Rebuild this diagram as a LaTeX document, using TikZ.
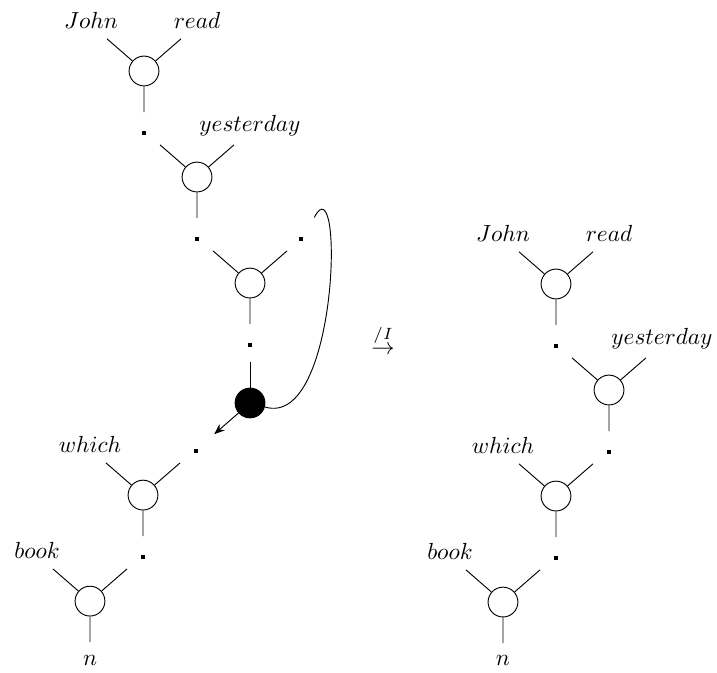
\documentclass[tikz,border=0pt]{standalone}
\usepackage{tikz}
\usetikzlibrary{positioning, arrows.meta}

\begin{document}
\begin{tikzpicture}[
    x=0.01509cm, y=-0.01509cm,
    >={Stealth[length=4.5pt,width=3.5pt]},
    on grid,
    % Stili per porte, punti ed etichette
    gate/.style={circle, draw, minimum size=0.45cm, inner sep=0pt},
    hole/.style={gate, fill=black},
    dot/.style={rectangle, fill=black, inner sep=0pt, minimum size=1.7pt},
    word/.style={inner sep=0pt}
]
    \useasboundingbox (0,0) rectangle (717,673);

    % Albero di sinistra
    \node[gate] (l1) at (144,71) {};
    \node[gate] (l2) [below right=1.6cm and 0.8cm of l1] {};
    \node[gate] (l3) [below right=1.6cm and 0.8cm of l2] {};
    \node[hole] (bk) [below=1.81cm of l3] {};
    \node[gate] (l4) [below left=1.39cm and 1.615cm of bk] {};
    \node[gate] (l5) [below left=1.6cm and 0.8cm of l4] {};

    % Albero di destra
    \node[gate] (r1) at (556,284) {};
    \node[gate] (r2) [below right=1.6cm and 0.8cm of r1] {};
    \node[gate] (r3) [below left=1.6cm and 0.8cm of r2] {};
    \node[gate] (r4) [below left=1.6cm and 0.8cm of r3] {};

    % Gambe delle porte
    \foreach \g in {l1,l2,l3,l4,l5,r1,r2,r3,r4} {
        \path (\g) ++(139:0.74cm) coordinate (\g-a)
              (\g) ++(41:0.74cm) coordinate (\g-b)
              (\g) ++(270:0.62cm) coordinate (\g-c);
        \draw (\g) -- (\g-a) (\g) -- (\g-b) (\g) -- (\g-c);
    }

    % Punti di collegamento
    \node[dot] (l1c) [below=0.94cm of l1] {};
    \node[dot] (l2c) [below=0.94cm of l2] {};
    \node[dot] (l3b) [above right=0.66cm and 0.77cm of l3] {};
    \node[dot] (l3c) [below=0.94cm of l3] {};
    \node[dot] (l4b) [above right=0.66cm and 0.8cm of l4] {};
    \node[dot] (l4c) [below=0.94cm of l4] {};
    \node[dot] (r1c) [below=0.94cm of r1] {};
    \node[dot] (r2c) [below=0.94cm of r2] {};
    \node[dot] (r3c) [below=0.94cm of r3] {};

    % Etichette
    \node[word] (john) [above left=0.77cm and 0.8cm of l1] {$John$};
    \node[word] (read) [above right=0.77cm and 0.8cm of l1] {$read$};
    \node[word] (yest) [above right=0.78cm and 0.8cm of l2] {$yesterday$};
    \node[word] (which) [above left=0.77cm and 0.8cm of l4] {$which$};
    \node[word] (book) [above left=0.77cm and 0.8cm of l5] {$book$};
    \node[word] (n) [below=0.89cm of l5] {$n$};
    \node[word] (rjohn) [above left=0.77cm and 0.8cm of r1] {$John$};
    \node[word] (rread) [above right=0.77cm and 0.8cm of r1] {$read$};
    \node[word] (ryest) [above right=0.78cm and 0.8cm of r2] {$yesterday$};
    \node[word] (rwhich) [above left=0.77cm and 0.8cm of r3] {$which$};
    \node[word] (rbook) [above left=0.77cm and 0.8cm of r4] {$book$};
    \node[word] (rn) [below=0.88cm of r4] {$n$};

    % Nodo nero e ciclo
    \path (bk) ++(90:0.62cm) coordinate (bk-c);
    \coordinate[below left=0.47cm and 0.54cm of bk] (bkout);
    \coordinate[above right=0.33cm and 0.2cm of l3b] (loopend);
    \draw (bk) -- (bk-c);
    \draw[->] (bk) -- (bkout);
    \draw (bk.-15) .. controls +(-17:1.17cm) and +(63:0.99cm) .. (loopend);

    % Regola
    \node (rule) at (383,340) {$\stackrel{/I}{\rightarrow}$};

\end{tikzpicture}
\end{document}
